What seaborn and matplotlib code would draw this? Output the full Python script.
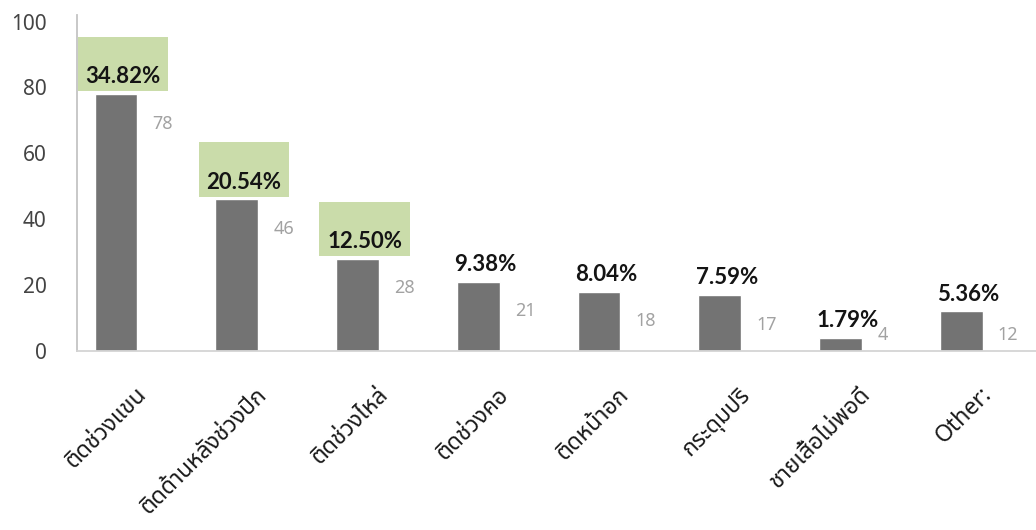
import matplotlib
matplotlib.use("Agg")
import matplotlib.pyplot as plt
import matplotlib.transforms as mtransforms
from matplotlib.patches import Rectangle
import seaborn as sns
import pandas as pd

# Defect locations and number of occurrences
categories = ["ติดช่วงแขน", "ติดด้านหลังช่วงปีก", "ติดช่วงไหล่", "ติดช่วงคอ",
              "ติดหน้าอก", "กระดุมปริ", "ชายเสื้อไม่พอดี", "Other:"]
counts = [78, 46, 28, 21, 18, 17, 4, 12]
y_ticks = [0, 20, 40, 60, 80, 100]
highlight_top = 3

total = sum(counts)
percents = [c / total * 100 for c in counts]

df = pd.DataFrame({"category": categories, "count": counts, "series": "count"})

sns.set_theme(style="white")
plt.rcParams["font.family"] = ["Noto Sans Thai", "DejaVu Sans"]

fig = plt.figure(figsize=(10.36, 5.30), dpi=100)
ax = fig.add_axes([77 / 1036, 1 - 351 / 530, 966 / 1036, 336 / 530])

BAR = "#737373"
GREEN = "#cadcaa"

# second (empty) series keeps the clustered-bar spacing, bars sit left of centre
sns.barplot(data=df, x="category", y="count", hue="series",
            hue_order=["count", "blank"], palette=[BAR, "#ffffff"],
            width=0.71, dodge=True, saturation=1, legend=False, ax=ax)

ax.set_ylim(0, 102)
ax.set_xlim(-0.5, len(categories) - 0.5)
ax.set_yticks(y_ticks)
ax.set_xlabel("")
ax.set_ylabel("")

for side in ["top", "right"]:
    ax.spines[side].set_visible(False)
ax.spines["left"].set_color("#c4c4c4")
ax.spines["left"].set_linewidth(1.3)
ax.spines["bottom"].set_color("#d4d4d4")
ax.spines["bottom"].set_linewidth(1.3)

ax.tick_params(axis="y", length=0, pad=22, labelsize=15, labelcolor="#444444")
ax.tick_params(axis="x", length=0, pad=0, labelsize=16.5, labelcolor="#1a1a1a")
ax.set_xticks(range(len(categories)))
ax.set_xticklabels(categories, rotation=45, ha="right", va="center",
                   rotation_mode="anchor")
shift = mtransforms.ScaledTranslation(4 / 72, -29 / 72, fig.dpi_scale_trans)
for lab in ax.get_xticklabels():
    lab.set_transform(lab.get_transform() + shift)

bars = [p for p in ax.patches if p.get_height() > 0][:len(counts)]
for i, (bar, c, pct) in enumerate(zip(bars, counts, percents)):
    cx = bar.get_x() + bar.get_width() / 2 + 0.06
    if i < highlight_top:
        ax.add_patch(Rectangle((cx - 0.375, c + 0.9), 0.75, 16.4,
                               facecolor=GREEN, edgecolor="none", zorder=1))
    ax.annotate(f"{pct:.2f}%", (cx, c), xytext=(0, 5), textcoords="offset points",
                ha="center", va="bottom", fontsize=16, fontweight="bold",
                family=["Lato", "DejaVu Sans"], color="#141414", zorder=3)
    ax.annotate(f"{c}", (bar.get_x() + bar.get_width(), max(c - 9, 5)),
                xytext=(11, 0), textcoords="offset points",
                ha="left", va="center", fontsize=13, fontweight="light",
                color="#a2a2a2")

fig.savefig("out.png", dpi=100, facecolor="white")
